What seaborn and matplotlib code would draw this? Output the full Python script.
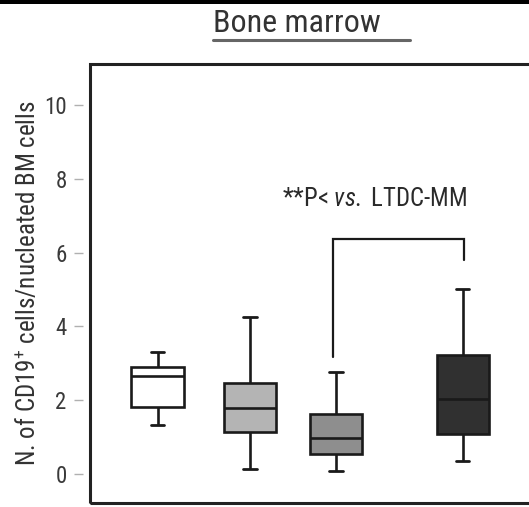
import numpy as np
import pandas as pd
import matplotlib
matplotlib.use("Agg")
import matplotlib.pyplot as plt
from matplotlib.patches import Rectangle
from matplotlib.lines import Line2D
from matplotlib import font_manager
import seaborn as sns

# Five-number summaries (min, Q1, median, Q3, max) of CD19+ cells per nucleated BM cells
groups = ["Group 1", "Group 2", "LTDC-MM", "Group 4"]
g1_values = [1.32, 1.81, 2.66, 2.91, 3.30]
g2_values = [0.13, 1.15, 1.79, 2.46, 4.26]
g3_values = [0.09, 0.53, 0.97, 1.63, 2.76]
g4_values = [0.36, 1.08, 2.02, 3.22, 5.01]
y_ticks = [0, 2, 4, 6, 8, 10]

title = "Bone marrow"
y_label = "N. of CD19$^{+}$ cells/nucleated BM cells"
note = r"**P< $\it{vs.}$ LTDC-MM"

# Layout: horizontal placement of each box on the x axis
group_pos = [1.0, 2.076, 3.076, 4.547]
fills = ["#ffffff", "#b4b4b4", "#8e8e8e", "#303030"]

df = pd.DataFrame({
    "group": np.repeat(groups, 5),
    "pos": np.repeat(group_pos, 5),
    "value": g1_values + g2_values + g3_values + g4_values,
})

installed = {f.name for f in font_manager.fontManager.ttflist}
candidates = ["Roboto Condensed", "Liberation Sans Narrow", "Liberation Sans"]
face = next(c for c in candidates if c in installed)

sns.set_theme(style="white")
plt.rcParams["font.family"] = [face, "DejaVu Sans"]
plt.rcParams["mathtext.fontset"] = "custom"
plt.rcParams["mathtext.rm"] = face
plt.rcParams["mathtext.it"] = face + ":italic"
plt.rcParams["mathtext.bf"] = face + ":bold"

W, H = 529, 507
fig = plt.figure(figsize=(W / 100, H / 100), dpi=100)
ax = fig.add_axes([89.5 / W, 4 / H, (535 - 89.5) / W, (503 - 64) / H])

sns.boxplot(
    data=df, x="pos", y="value", hue="group", native_scale=True,
    palette=dict(zip(groups, fills)), saturation=1, legend=False,
    width=0.605, whis=(0, 100), linewidth=1.9, linecolor="#1a1a1a",
    dodge=False, ax=ax,
)

# Narrow whisker caps
for cont in ax.containers:
    caps = getattr(cont, "caps", [])
    for cap in caps:
        xd = np.asarray(cap.get_xdata(), dtype=float)
        c = xd.mean()
        cap.set_xdata([c - 0.08, c + 0.08])
        cap.set_linewidth(2.0)

ax.set_xlim(1 - 68 / 86, 1 + 377.5 / 86)
ax.set_ylim(-0.786, 11.11)
ax.set_xticks([])
ax.set_yticks(y_ticks)
ax.set_yticklabels([str(t) for t in y_ticks])
ax.set_xlabel("")
ax.set_ylabel("")

for s in ax.spines.values():
    s.set_visible(False)
ax.spines["left"].set_position(("outward", 5))
ax.tick_params(axis="y", which="major", left=True, direction="out", length=6.5,
               width=1.0, color="#b0b0b0", pad=5, labelsize=16.5, labelcolor="#3a3a3a")

# Frame around the plotting area
ax.add_patch(Rectangle((0, 0), 1, 1, transform=ax.transAxes, fill=False,
                       lw=2.2, ec="#222222", clip_on=False, zorder=5))

# Significance bracket between LTDC-MM and the last group
bx = [group_pos[2] - 0.035, group_pos[2] - 0.035, group_pos[3] + 0.02, group_pos[3] + 0.02]
by = [3.18, 6.37, 6.37, 5.80]
ax.plot(bx, by, color="#1a1a1a", lw=1.6, solid_joinstyle="miter")
ax.text(3.53, 7.45, note, ha="center", va="center", fontsize=17.8, color="#2a2a2a")

# Y label and title
fig.text(27 / W, 1 - 283 / H, y_label, rotation=90, ha="center", va="center",
         fontsize=18, color="#333333")
fig.text(297 / W, 1 - 23 / H, title, ha="center", va="center", fontsize=23, color="#333333")
fig.add_artist(Line2D([213 / W, 410 / W], [1 - 39.5 / H, 1 - 39.5 / H],
                      transform=fig.transFigure, color="#666666", lw=2.2))

# Black strip along the top edge
fig.add_artist(Rectangle((0, 1 - 4 / H), 1, 4 / H, transform=fig.transFigure,
                         color="black", lw=0))

fig.savefig("out.png", dpi=100)
